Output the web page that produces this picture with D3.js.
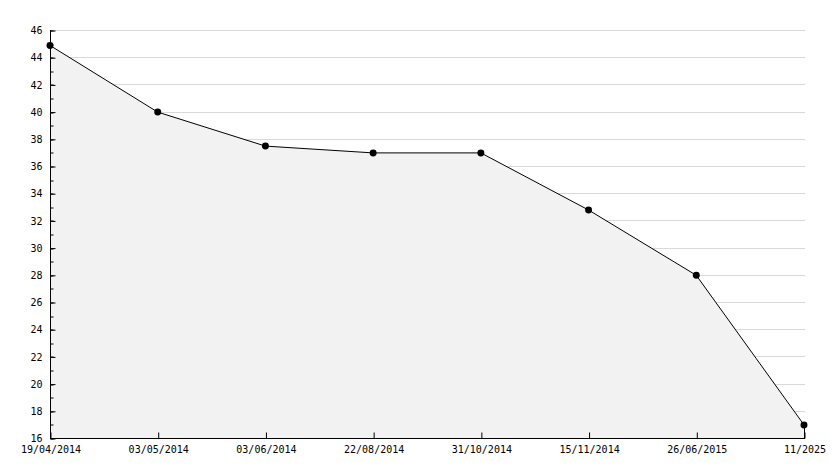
<!DOCTYPE html>
<html>
<head>
<meta charset="utf-8">
<script src="https://cdn.jsdelivr.net/npm/d3@7"></script>
<style>
  body { margin: 0; background: #fff; }
  .axis text { font-family: "DejaVu Sans Mono", monospace; font-size: 10px; fill: #000; }
  .axis path { display: none; }
</style>
</head>
<body>
<div class="svg-container"></div>
<script>
// chart data
const dates = ['19/04/2014', '03/05/2014', '03/06/2014', '22/08/2014', '31/10/2014', '15/11/2014', '26/06/2015', '11/2025'];
const values = [44.9, 40, 37.5, 37, 37, 32.8, 28, 17];
const yTicks = [16, 18, 20, 22, 24, 26, 28, 30, 32, 34, 36, 38, 40, 42, 44, 46];

const width = 834;
const height = 468;
const margin = { top: 30, right: 30, bottom: 30, left: 50 };

const svg = d3.select('.svg-container')
  .append('svg')
  .attr('width', width)
  .attr('height', height)

const x = d3.scalePoint()
  .domain(dates)
  .range([margin.left, width - margin.right])

const y = d3.scaleLinear()
  .domain([16, 46])
  .range([height - margin.bottom, margin.top])

const data = dates.map((d, i) => ({ date: d, value: values[i] }));

// gridlines
svg.append('g')
  .selectAll('line')
  .data(yTicks)
  .enter()
  .append('line')
  .attr('x1', margin.left)
  .attr('x2', width - margin.right + 1)
  .attr('y1', d => Math.round(y(d)) + 0.5)
  .attr('y2', d => Math.round(y(d)) + 0.5)
  .attr('stroke', '#d9d9d9')

// filled area under the line
const area = d3.area()
  .x(d => x(d.date))
  .y0(y(16))
  .y1(d => y(d.value) + 0.5)

svg.append('path')
  .datum(data)
  .attr('d', area)
  .attr('fill', '#f2f2f2')

const line = d3.line()
  .x(d => x(d.date))
  .y(d => y(d.value) + 0.5)

svg.append('path')
  .datum(data)
  .attr('d', line)
  .attr('fill', 'none')
  .attr('stroke', '#000')
  .attr('stroke-width', 1)

// drop line at the last point
svg.append('line')
  .attr('x1', Math.round(x(dates[dates.length - 1])) + 0.5)
  .attr('x2', Math.round(x(dates[dates.length - 1])) + 0.5)
  .attr('y1', y(values[values.length - 1]))
  .attr('y2', y(16))
  .attr('stroke', '#000')

// markers
svg.append('g')
  .selectAll('path')
  .data(data)
  .enter()
  .append('path')
  .attr('transform', d => `translate(${x(d.date)},${y(d.value) + 0.5})`)
  .attr('d', d3.symbol().type(d3.symbolCircle).size(38))
  .attr('fill', '#000')

// y axis: minor ticks
svg.append('g')
  .attr('class', 'axis')
  .attr('transform', `translate(${margin.left + 0.5},0.5)`)
  .call(d3.axisLeft(y).ticks(30).tickSizeInner(-3).tickSizeOuter(0).tickFormat(''))
  .selectAll('line').attr('transform', d => `translate(0,${Math.round(y(d)) - y(d)})`)

// y axis: major ticks + labels
svg.append('g')
  .attr('class', 'axis')
  .attr('transform', `translate(${margin.left + 0.5},0.5)`)
  .call(d3.axisLeft(y).tickValues(yTicks).tickSizeInner(-5).tickSizeOuter(0).tickPadding(8))

// x axis
svg.append('g')
  .attr('class', 'axis')
  .attr('transform', `translate(0.5,${height - margin.bottom + 0.5})`)
  .call(d3.axisBottom(x).tickSizeInner(-6).tickSizeOuter(0).tickPadding(7))

// axis lines
svg.append('line')
  .attr('x1', margin.left + 0.5).attr('x2', margin.left + 0.5)
  .attr('y1', y(46)).attr('y2', y(16) + 1)
  .attr('stroke', '#000')

svg.append('line')
  .attr('x1', margin.left).attr('x2', width - margin.right + 1)
  .attr('y1', y(16) + 0.5).attr('y2', y(16) + 0.5)
  .attr('stroke', '#000')
</script>
</body>
</html>
